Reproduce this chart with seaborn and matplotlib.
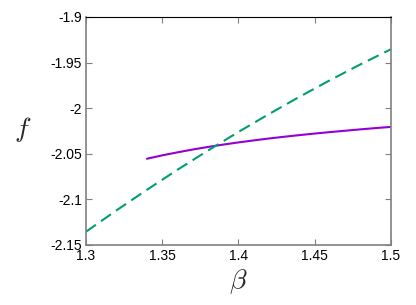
import numpy as np
import pandas as pd
import matplotlib
matplotlib.use("Agg")
import matplotlib.pyplot as plt
import seaborn as sns

# Data
beta_dashed = [1.30, 1.32, 1.34, 1.36, 1.38, 1.40, 1.42, 1.44, 1.46, 1.48, 1.50]
f_dashed = [-2.1354, -2.1120, -2.0894, -2.0675, -2.0464, -2.0260, -2.0064, -1.9875, -1.9693, -1.9519, -1.9353]

beta_solid = [1.34, 1.35, 1.36, 1.37, 1.38, 1.39, 1.40, 1.41, 1.42,
              1.43, 1.44, 1.45, 1.46, 1.47, 1.48, 1.49, 1.50]
f_solid = [-2.0554, -2.0517, -2.0484, -2.0453, -2.0425, -2.0399, -2.0375, -2.0353, -2.0332,
           -2.0313, -2.0295, -2.0278, -2.0262, -2.0247, -2.0232, -2.0218, -2.0205]

x_ticks = [1.3, 1.35, 1.4, 1.45, 1.5]
x_ticklabels = ["1.3", "1.35", "1.4", "1.45", "1.5"]
y_ticks = [-2.15, -2.1, -2.05, -2.0, -1.95, -1.9]
y_ticklabels = ["-2.15", "-2.1", "-2.05", "-2", "-1.95", "-1.9"]

sns.set_style("white")
plt.rcParams['font.family'] = ['Liberation Sans', 'DejaVu Sans']
plt.rcParams['mathtext.fontset'] = 'cm'

fig = plt.figure(figsize=(4.16, 3.05), dpi=100)
ax = fig.add_axes([86/416, 1-245/305, (391-86)/416, (245-17)/305])

df_solid = pd.DataFrame({"beta": beta_solid, "f": f_solid})
df_dashed = pd.DataFrame({"beta": beta_dashed, "f": f_dashed})

sns.lineplot(data=df_solid, x="beta", y="f", ax=ax, color="#9400d3", linewidth=1.5)
sns.lineplot(data=df_dashed, x="beta", y="f", ax=ax, color="#009e73", linewidth=1.5,
             dashes=False)
ax.lines[-1].set_dashes((5.8, 3.0))

ax.set_xlim(1.3, 1.5)
ax.set_ylim(-2.15, -1.9)
ax.set_xticks(x_ticks)
ax.set_xticklabels(x_ticklabels)
ax.set_yticks(y_ticks)
ax.set_yticklabels(y_ticklabels)

ax.tick_params(axis='both', which='both', direction='in', length=4, width=0.8,
               color='#808080', labelsize=10, labelcolor='black',
               top=True, right=True, bottom=True, left=True, pad=3)

for side in ['left', 'bottom', 'right']:
    ax.spines[side].set_color('#808080')
    ax.spines[side].set_linewidth(1.2)
ax.spines['top'].set_color('black')
ax.spines['top'].set_linewidth(0.8)

ax.set_xlabel("")
ax.set_ylabel("")
fig.text(23/416, 1-130/305, r"$f$", fontsize=20, ha='center', va='center')
fig.text(238/416, 1-282/305, r"$\beta$", fontsize=20, ha='center', va='center')

fig.savefig("out.png", dpi=100)
